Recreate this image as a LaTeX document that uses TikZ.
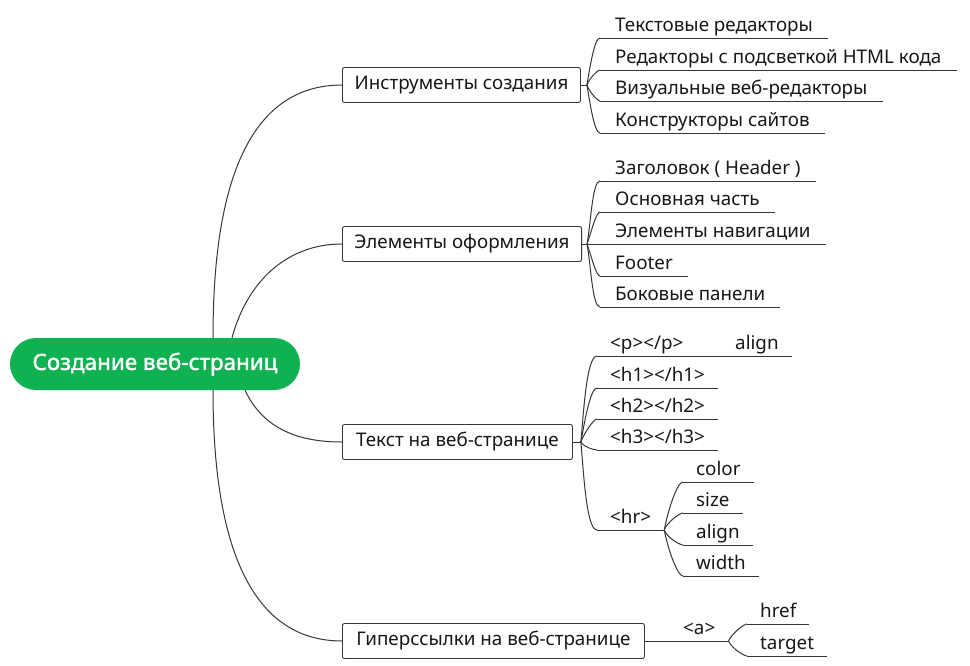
\documentclass[tikz,border=0pt]{standalone}
\usepackage{fontspec}
\setmainfont{Noto Sans}
\newfontfamily\rootfont{Noto Sans}[FakeBold=1.6]
\definecolor{mapgreen}{RGB}{16,177,80}
\definecolor{mapline}{RGB}{55,55,55}
\definecolor{maptext}{RGB}{24,24,24}
\begin{document}
\begin{tikzpicture}[
    x=1pt, y=-1pt,
    root/.style={rectangle, fill=mapgreen, text=white, rounded corners=26pt, minimum width=290pt, minimum height=52pt, font=\rootfont\fontsize{22.4}{26}\selectfont},
    topic/.style={rectangle, draw=mapline, line width=0.9pt, rounded corners=2pt, minimum height=35pt, inner xsep=12pt, anchor=west, text=maptext, font=\fontsize{18.8}{22}\selectfont},
    leaf/.style={inner xsep=15pt, inner ysep=2pt, text height=14pt, text depth=4pt, anchor=south west, text=maptext, font=\fontsize{18.8}{22}\selectfont, append after command={(\tikzlastnode.south west) edge[link] (\tikzlastnode.south east)}},
    link/.style={draw=mapline, line width=1pt},
    fan/.style={in=180, out looseness=0.9, in looseness=0.3}
]
\fill[white] (0,0) rectangle (970,665);
\useasboundingbox (0,0) rectangle (970,665);

% Root and main topics
\node[root] (root) at (155,364) {Создание веб-страниц};
\node[topic, minimum width=238pt] (tools) at (342,85) {Инструменты создания};
\node[topic, minimum width=238pt] (design) at (342,244) {Элементы оформления};
\node[topic, minimum width=230pt] (webtext) at (342,442) {Текст на веб-странице};
\node[topic, minimum width=302pt] (links) at (342,641) {Гиперссылки на веб-странице};

\draw[link] ([xshift=58pt]root.north) to[out=90,in=180] (tools.west);
\draw[link] ([xshift=77pt]root.north) to[out=75,in=180] (design.west);
\draw[link] ([xshift=90pt]root.south) to[out=-65,in=180] (webtext.west);
\draw[link] ([xshift=58pt]root.south) to[out=-90,in=180] (links.west);

% Tools
\node[leaf] (t1) at (600,38) {Текстовые редакторы};
\node[leaf] (t2) at (600,70) {Редакторы с подсветкой HTML кода};
\node[leaf] (t3) at (600,101) {Визуальные веб-редакторы};
\node[leaf] (t4) at (600,133) {Конструкторы сайтов};
\draw[link] (tools.east) -- ++(6,0) coordinate (tj);
\foreach \leaf/\ang in {t1/80, t2/70, t3/-70, t4/-80}
  \draw[link] (tj) to[fan, out=\ang] (\leaf.south west);

% Page elements
\node[leaf] (d1) at (600,181) {Заголовок ( Header )};
\node[leaf] (d2) at (600,212) {Основная часть};
\node[leaf] (d3) at (600,244) {Элементы навигации};
\node[leaf] (d4) at (600,276) {Footer};
\node[leaf] (d5) at (600,307) {Боковые панели};
\draw[link] (design.east) -- ++(5,0) coordinate (dj);
\draw[link] (dj) -- (d3.south west);
\foreach \leaf/\ang in {d1/80, d2/70, d4/-70, d5/-80}
  \draw[link] (dj) to[fan, out=\ang] (\leaf.south west);

% Text tags
\node[leaf, inner xsep=13pt] (p) at (597,356) {<p></p>};
\node[leaf, inner xsep=13pt] (pal) at (722,356) {align};
\node[leaf, inner xsep=13pt] (h1) at (597,388) {<h1></h1>};
\node[leaf, inner xsep=13pt] (h2) at (597,419) {<h2></h2>};
\node[leaf, inner xsep=13pt] (h3) at (597,450) {<h3></h3>};
\node[leaf, inner xsep=13pt] (hr) at (597,530) {<hr>};
\draw[link] (p.south east) -- (pal.south west);
\draw[link] (webtext.east) -- ++(8,0) coordinate (wj);
\foreach \leaf/\ang in {p/85, h1/80, h2/70, h3/-60, hr/-85}
  \draw[link] (wj) to[fan, out=\ang] (\leaf.south west);

% hr attributes
\node[leaf, inner xsep=13pt] (hc) at (683,482) {color};
\node[leaf, inner xsep=13pt] (hs) at (683,513) {size};
\node[leaf, inner xsep=13pt] (ha) at (683,545) {align};
\node[leaf, inner xsep=13pt] (hw) at (683,576) {width};
\foreach \leaf/\ang in {hc/80, hs/70, ha/-70, hw/-80}
  \draw[link] (hr.south east) to[fan, out=\ang] (\leaf.south west);

% Hyperlinks
\node[leaf, inner xsep=13pt] (a) at (670,641) {<a>};
\node[leaf, inner xsep=13pt] (href) at (747,624) {href};
\node[leaf, inner xsep=13pt] (trg) at (747,656) {target};
\draw[link] (links.east) -- (a.south west);
\draw[link] (a.south east) to[fan, out=65] (href.south west);
\draw[link] (a.south east) to[fan, out=-65] (trg.south west);

\end{tikzpicture}
\end{document}
